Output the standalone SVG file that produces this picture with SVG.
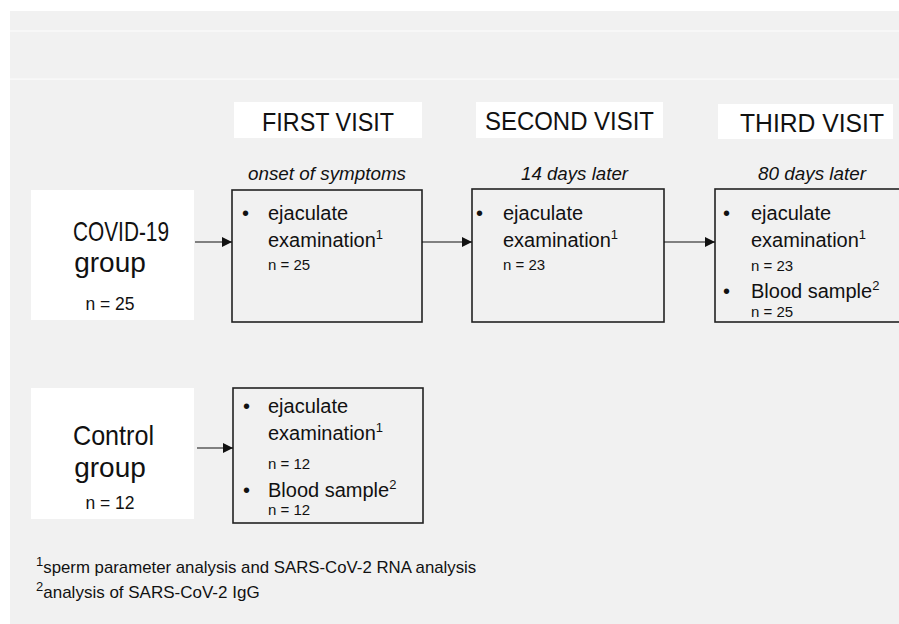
<svg xmlns="http://www.w3.org/2000/svg" width="899" height="624" viewBox="0 0 899 624">
<defs>
<marker id="ah" viewBox="0 0 10 10" refX="10" refY="5" markerWidth="10" markerHeight="10" markerUnits="userSpaceOnUse" orient="auto">
<path d="M0,0 L10,5 L0,10 z" fill="#111"/>
</marker>
<style>
text{font-family:"Liberation Sans",Arial,sans-serif;fill:#111}
.hdr{font-size:26px;text-anchor:middle}
.sub{font-size:18px;font-style:italic;text-anchor:middle}
.big{font-size:28px;text-anchor:middle}
.nl{font-size:17.5px;text-anchor:middle}
.it{font-size:20px}
.n{font-size:15px}
.sup{font-size:13px}
.wbox{fill:#fff;stroke:none}
.vbox{fill:none;stroke:#222;stroke-width:1.6}
.conn line{stroke:#111;stroke-width:1.2;marker-end:url(#ah)}
.fn{font-size:17px}
</style>
</defs>
<rect x="0" y="0" width="899" height="624" fill="#fff"/>
<rect x="10" y="11" width="889" height="613" fill="#f1f1f1"/>
<rect x="10" y="30" width="889" height="2" fill="#f7f7f7"/>
<rect x="10" y="78.5" width="889" height="1.2" fill="#fbfbfb"/>

<g id="hdr-first"><rect class="wbox" x="234" y="102" width="188" height="36"/><text class="hdr" x="328" y="131" textLength="132" lengthAdjust="spacingAndGlyphs">FIRST VISIT</text></g>
<g id="hdr-second"><rect class="wbox" x="476" y="102" width="187" height="36"/><text class="hdr" x="569.5" y="130" textLength="169" lengthAdjust="spacingAndGlyphs">SECOND VISIT</text></g>
<g id="hdr-third"><rect class="wbox" x="718" y="104" width="175" height="35"/><text class="hdr" x="812" y="132" textLength="144" lengthAdjust="spacingAndGlyphs">THIRD VISIT</text></g>

<g id="sub-first"><text class="sub" x="327" y="180" textLength="158" lengthAdjust="spacingAndGlyphs">onset of symptoms</text></g>
<g id="sub-second"><text class="sub" x="574.5" y="180" textLength="107" lengthAdjust="spacingAndGlyphs">14 days later</text></g>
<g id="sub-third"><text class="sub" x="812" y="180" textLength="108" lengthAdjust="spacingAndGlyphs">80 days later</text></g>

<g id="covid-group"><rect class="wbox" x="31" y="190" width="163" height="130"/>
<text class="big" x="121" y="241" textLength="96" lengthAdjust="spacingAndGlyphs">COVID-19</text>
<text class="big" x="110" y="272">group</text>
<text class="nl" x="110" y="310">n = 25</text></g>

<g id="control-group"><rect class="wbox" x="31" y="388" width="163" height="131"/>
<text class="big" x="113.5" y="445" textLength="81" lengthAdjust="spacingAndGlyphs">Control</text>
<text class="big" x="110" y="477">group</text>
<text class="nl" x="110" y="509">n = 12</text></g>

<g id="visit1-covid"><rect class="vbox" x="232" y="190" width="190" height="132"/>
<text class="it" x="242" y="220">•</text>
<text class="it" x="268" y="220">ejaculate</text>
<text class="it" x="268" y="247">examination<tspan class="sup" dy="-8">1</tspan></text>
<text class="n" x="268" y="270">n = 25</text></g>

<g id="visit2-covid"><rect class="vbox" x="472" y="189" width="192" height="133"/>
<text class="it" x="476" y="220">•</text>
<text class="it" x="503" y="220">ejaculate</text>
<text class="it" x="503" y="247">examination<tspan class="sup" dy="-8">1</tspan></text>
<text class="n" x="503" y="270">n = 23</text></g>

<g id="visit3-covid"><rect class="vbox" x="715" y="189" width="200" height="133"/>
<text class="it" x="723" y="220">•</text>
<text class="it" x="751" y="220">ejaculate</text>
<text class="it" x="751" y="247">examination<tspan class="sup" dy="-8">1</tspan></text>
<text class="n" x="751" y="271">n = 23</text>
<text class="it" x="723" y="298">•</text>
<text class="it" x="751" y="298">Blood sample<tspan class="sup" dy="-8">2</tspan></text>
<text class="n" x="751" y="317">n = 25</text></g>

<g id="visit1-control"><rect class="vbox" x="233" y="388" width="190" height="135"/>
<text class="it" x="243" y="413">•</text>
<text class="it" x="268" y="413">ejaculate</text>
<text class="it" x="268" y="440">examination<tspan class="sup" dy="-8">1</tspan></text>
<text class="n" x="268" y="469">n = 12</text>
<text class="it" x="243" y="497">•</text>
<text class="it" x="268" y="497">Blood sample<tspan class="sup" dy="-8">2</tspan></text>
<text class="n" x="268" y="515">n = 12</text></g>

<g id="connectors" class="conn">
<line x1="195" y1="242" x2="232" y2="242"/>
<line x1="422" y1="242" x2="472" y2="242"/>
<line x1="664" y1="242" x2="715" y2="242"/>
<line x1="197" y1="448" x2="233" y2="448"/>
</g>

<g id="footnotes">
<text class="fn" x="36" y="573"><tspan class="sup" dy="-7">1</tspan><tspan dy="7" textLength="433" lengthAdjust="spacingAndGlyphs">sperm parameter analysis and SARS-CoV-2 RNA analysis</tspan></text>
<text class="fn" x="36" y="598"><tspan class="sup" dy="-7">2</tspan><tspan dy="7">analysis of SARS-CoV-2 IgG</tspan></text>
</g>
</svg>
